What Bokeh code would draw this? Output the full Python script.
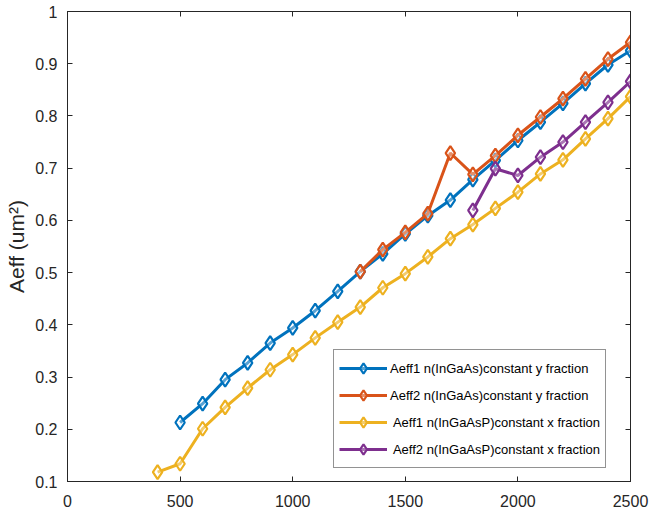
from bokeh.plotting import figure
from bokeh.models import (LinearAxis, FixedTicker, CustomJSTickFormatter, Range1d,
                          Legend, LegendItem)
from bokeh.embed import file_html
from bokeh.resources import INLINE

# Wavelength (nm) and effective mode area Aeff (um^2) for each case
x_aeff1_ingaas = [500, 600, 700, 800, 900, 1000, 1100, 1200, 1300, 1400, 1500,
                  1600, 1700, 1800, 1900, 2000, 2100, 2200, 2300, 2400, 2500]
y_aeff1_ingaas = [0.213, 0.249, 0.295, 0.327, 0.365, 0.394, 0.427, 0.464, 0.502, 0.536, 0.574,
                  0.609, 0.639, 0.678, 0.715, 0.753, 0.788, 0.824, 0.862, 0.898, 0.925]

x_aeff2_ingaas = [1300, 1400, 1500, 1600, 1700, 1800, 1900, 2000, 2100, 2200, 2300, 2400, 2500]
y_aeff2_ingaas = [0.502, 0.544, 0.577, 0.613, 0.729, 0.688, 0.724, 0.763, 0.798, 0.833, 0.871,
                  0.909, 0.941]

x_aeff1_ingaasp = [400, 500, 600, 700, 800, 900, 1000, 1100, 1200, 1300, 1400, 1500,
                   1600, 1700, 1800, 1900, 2000, 2100, 2200, 2300, 2400, 2500]
y_aeff1_ingaasp = [0.118, 0.134, 0.201, 0.242, 0.279, 0.314, 0.343, 0.375, 0.405, 0.434, 0.471,
                   0.498, 0.530, 0.565, 0.592, 0.623, 0.654, 0.689, 0.716, 0.756, 0.795, 0.837]

x_aeff2_ingaasp = [1800, 1900, 2000, 2100, 2200, 2300, 2400, 2500]
y_aeff2_ingaasp = [0.619, 0.699, 0.686, 0.721, 0.750, 0.788, 0.826, 0.866]

series_labels = ["Aeff1 n(InGaAs)constant y fraction",
                 "Aeff2 n(InGaAs)constant y fraction",
                 " Aeff1 n(InGaAsP)constant x fraction",
                 " Aeff2 n(InGaAsP)constant x fraction"]

x_ticks = [0, 500, 1000, 1500, 2000, 2500]
y_ticks = [0.1, 0.2, 0.3, 0.4, 0.5, 0.6, 0.7, 0.8, 0.9, 1.0]
y_tick_labels = ["0.1", "0.2", "0.3", "0.4", "0.5", "0.6", "0.7", "0.8", "0.9", "1"]
y_axis_title = "Aeff (um\u00b2)"

colors = ["#0072BD", "#D95319", "#EDB120", "#7E2F8E"]
FONT = "Liberation Sans"
AX = "#262626"

p = figure(width=659, height=517, output_backend="svg", toolbar_location=None,
           x_range=Range1d(0, 2500), y_range=Range1d(0.1, 1.0),
           x_axis_location=None, y_axis_location=None,
           min_border_left=67, min_border_right=29, min_border_top=11, min_border_bottom=36)
p.grid.visible = False
p.outline_line_color = AX
p.outline_line_width = 1
p.background_fill_color = "white"
p.border_fill_color = "white"

y_fmt = CustomJSTickFormatter(args=dict(tvals=y_ticks, tlabels=y_tick_labels), code="""
    let best = 0;
    for (let i = 0; i < tvals.length; i++) {
        if (Math.abs(tvals[i] - tick) < Math.abs(tvals[best] - tick)) best = i;
    }
    return tlabels[best];
""")


def style_axis(ax, show_labels):
    ax.axis_line_color = AX
    ax.major_tick_line_color = AX
    ax.major_tick_in = 5
    ax.major_tick_out = 0
    ax.minor_tick_line_color = None
    ax.major_label_text_font = FONT
    ax.major_label_text_font_size = "16px"
    ax.major_label_text_color = AX
    if not show_labels:
        ax.major_label_text_color = None
        ax.major_label_text_font_size = "1px"
        ax.major_label_standoff = 0


bottom = LinearAxis(ticker=FixedTicker(ticks=x_ticks))
style_axis(bottom, True)
bottom.major_label_standoff = 13
p.add_layout(bottom, "below")

left = LinearAxis(ticker=FixedTicker(ticks=y_ticks), formatter=y_fmt,
                  axis_label=y_axis_title)
style_axis(left, True)
left.major_label_standoff = 10
left.axis_label_text_font = FONT
left.axis_label_text_font_size = "21px"
left.axis_label_text_font_style = "normal"
left.axis_label_text_color = AX
left.axis_label_standoff = 4
p.add_layout(left, "left")

top = LinearAxis(ticker=FixedTicker(ticks=x_ticks))
style_axis(top, False)
p.add_layout(top, "above")

right = LinearAxis(ticker=FixedTicker(ticks=y_ticks))
style_axis(right, False)
p.add_layout(right, "right")

data = [(x_aeff1_ingaas, y_aeff1_ingaas),
        (x_aeff2_ingaas, y_aeff2_ingaas),
        (x_aeff1_ingaasp, y_aeff1_ingaasp),
        (x_aeff2_ingaasp, y_aeff2_ingaasp)]

items = []
for (xs, ys), c, lab in zip(data, colors, series_labels):
    ln = p.line(xs, ys, line_color=c, line_width=3)
    mk = p.scatter(xs, ys, marker="diamond", size=14, line_color=c, line_width=2.2,
                   fill_color="white", fill_alpha=0.35)
    items.append(LegendItem(label=lab, renderers=[ln, mk]))

legend = Legend(items=items, location=(266, 13))
legend.label_text_font = FONT
legend.label_text_font_size = "13px"
legend.label_text_color = "black"
legend.glyph_width = 48
legend.glyph_height = 26
legend.spacing = 1
legend.padding = 5
legend.margin = 0
legend.label_standoff = 3
legend.border_line_color = AX
legend.border_line_width = 1
legend.background_fill_alpha = 1
p.add_layout(legend, "center")

open("out.html", "w").write(file_html(p, INLINE))
